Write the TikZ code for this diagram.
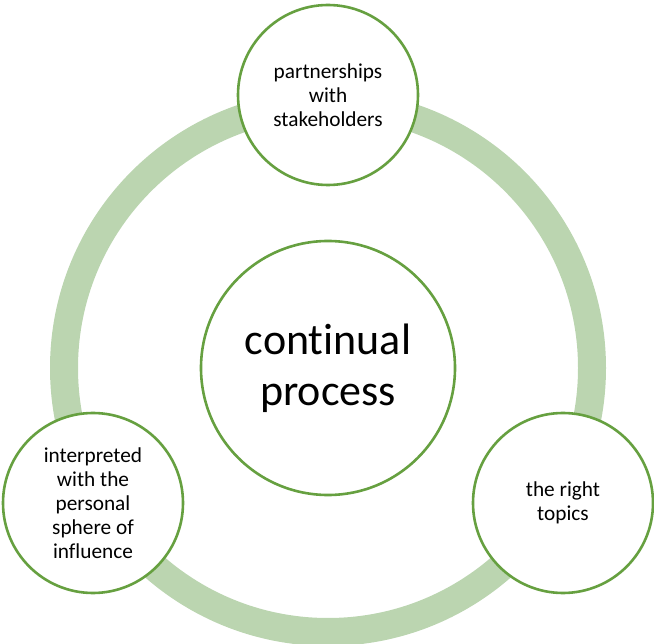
\documentclass[tikz,border=0pt]{standalone}
\usepackage{fontspec}
\setmainfont[Ligatures=NoCommon]{Carlito}
\definecolor{ringcol}{HTML}{BBD5B0}
\definecolor{edgecol}{HTML}{66A040}
\begin{document}
\begin{tikzpicture}[x=1pt,y=-1pt,
  bubble/.style={circle,draw=edgecol,line width=2.6pt,fill=white,inner sep=0pt,
    minimum size=180pt,align=center,font=\fontsize{21.3}{24}\selectfont},
  hub/.style={circle,draw=edgecol,line width=2.6pt,fill=white,inner sep=0pt,
    minimum size=254pt,align=center,font=\fontsize{44}{51}\selectfont}]
\useasboundingbox (0,0) rectangle (654,644);
\clip (0,0) rectangle (654,644);
\coordinate (c) at (328,368);
\draw[ringcol,line width=28pt] (c) circle (264);
\node[hub] (center) at (c) {continual\\process};
\node[bubble] (top) at (328,95) {partnerships\\with\\stakeholders};
\node[bubble] (right) at (563,503) {the right\\topics};
\node[bubble] (left) at (93,503) {interpreted\\with the\\personal\\sphere of\\influence};
\end{tikzpicture}
\end{document}
